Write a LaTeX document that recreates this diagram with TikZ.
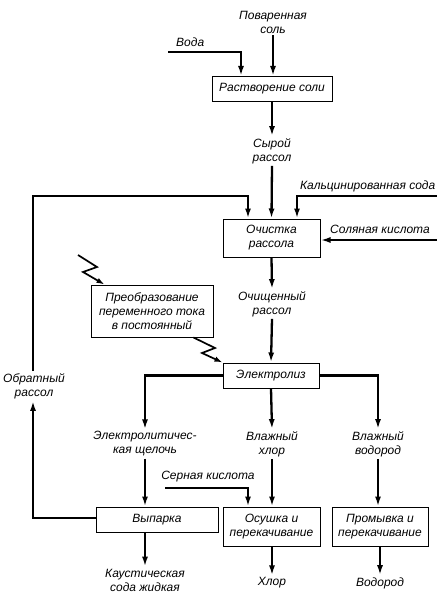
\documentclass[tikz,border=0pt]{standalone}
\usepackage{fontspec}
\setmainfont{Liberation Sans}
\usetikzlibrary{arrows.meta}
\begin{document}
\begin{tikzpicture}[x=1pt,y=-1pt,
  txt/.style={font=\itshape\fontsize{12}{14}\selectfont},
  box/.style={draw,line width=1pt,align=center,inner sep=1pt,txt},
  lbl/.style={align=center,inner sep=2pt,txt},
  flow/.style={line width=2.3pt,-{Latex[length=10pt,width=6pt]}},
  zig/.style={line width=1.7pt,-{Latex[length=8pt,width=5.5pt]}}]
\useasboundingbox (0,0) rectangle (436,596);

% boxes
\node[box,minimum width=120pt,minimum height=25pt] (r1) at (272,89) {Растворение соли};
\node[box,minimum width=97pt,minimum height=38pt] (r2) at (271.5,238) {Очистка\\рассола};
\node[box,minimum width=96pt,minimum height=25pt] (r3) at (271,375.5) {Электролиз};
\node[box,minimum width=122pt,minimum height=52pt] (conv) at (152,311) {Преобразование\\переменного тока\\в постоянный};
\node[box,minimum width=122pt,minimum height=25pt] (vyp) at (157,519.5) {Выпарка};
\node[box,minimum width=97pt,minimum height=39pt] (osu) at (271.5,526.5) {Осушка и\\перекачивание};
\node[box,minimum width=96pt,minimum height=39pt] (prom) at (380,526.5) {Промывка и\\перекачивание};

% labels
\node[lbl] (salt) at (273,22) {Поваренная\\соль};
\node[lbl,anchor=west] (water) at (174,42) {Вода};
\node[lbl] (raw) at (272,151) {Сырой\\рассол};
\node[lbl,anchor=east,inner sep=0.5pt] (soda) at (436,186) {Кальцинированная сода};
\node[lbl,anchor=west] (hcl) at (328,229) {Соляная кислота};
\node[lbl] (clean) at (272,304) {Очищенный\\рассол};
\node[lbl] (fbl) at (34,386) {Обратный\\рассол};
\node[lbl] (alk) at (145,444) {Электролитичес-\\кая щелочь};
\node[lbl] (wcl) at (272,444) {Влажный\\хлор};
\node[lbl] (wh) at (378,444) {Влажный\\водород};
\node[lbl] (sulf) at (208,477) {Серная кислота};
\node[lbl] (caus) at (145,580) {Каустическая\\сода жидкая};
\node[lbl] (chl) at (272,583) {Хлор};
\node[lbl] (hyd) at (380,583) {Водород};

% free ends
\coordinate (w0) at (168,52);
\coordinate (sodaIn) at (440,196);
\coordinate (hclIn) at (440,240);
\coordinate (fbc) at (33,196);
\coordinate (s0) at (165,488);
\coordinate (z1) at (78,255);
\coordinate (z2) at (97,267);
\coordinate (z3) at (83,272);
\coordinate (y2) at (215,348);
\coordinate (y3) at (202,353);

% top
\draw[flow] (salt.south) -- (salt.south |- r1.north);
\draw[flow] (w0) -| ([xshift=-31pt]r1.north);
\draw[flow] (r1.south) -- (raw.north);
\draw[flow] (raw.south) -- (r2.north);
\draw[flow] (sodaIn) -| ([xshift=25.5pt]r2.north);
\draw[flow] (hclIn) -- (hclIn -| r2.east);
\draw[flow] (fbl.north -| fbc) -- (fbc) -| ([xshift=-23.5pt]r2.north);
\draw[flow] (r2.south) -- (clean.north);
\draw[flow] (clean.south) -- (r3.north);

% lightning
\draw[zig] (z1) -- (z2) -- (z3) -- ([xshift=14pt]conv.north west);
\draw[zig] ([xshift=-20pt]conv.south east) -- (y2) -- (y3) -- (r3.north west);

% electrolysis outputs
\draw[flow] (r3.west) -| (alk.north);
\draw[flow] (r3.south) -- (wcl.north);
\draw[flow] (r3.east) -| (wh.north);
\draw[flow] (alk.south) -- (alk.south |- vyp.north);
\draw[flow] (wcl.south) -- (wcl.south |- osu.north);
\draw[flow] (wh.south) -- (wh.south |- prom.north);
\draw[flow] (s0) -| ([xshift=-23.5pt]osu.north);
\draw[flow] ([yshift=1.5pt]vyp.west) -| (fbl.south -| fbc);

% final products
\draw[flow] (vyp.south -| caus.north) -- (caus.north);
\draw[flow] (osu.south -| chl.north) -- (chl.north);
\draw[flow] (prom.south) -- (hyd.north);
\end{tikzpicture}
\end{document}
